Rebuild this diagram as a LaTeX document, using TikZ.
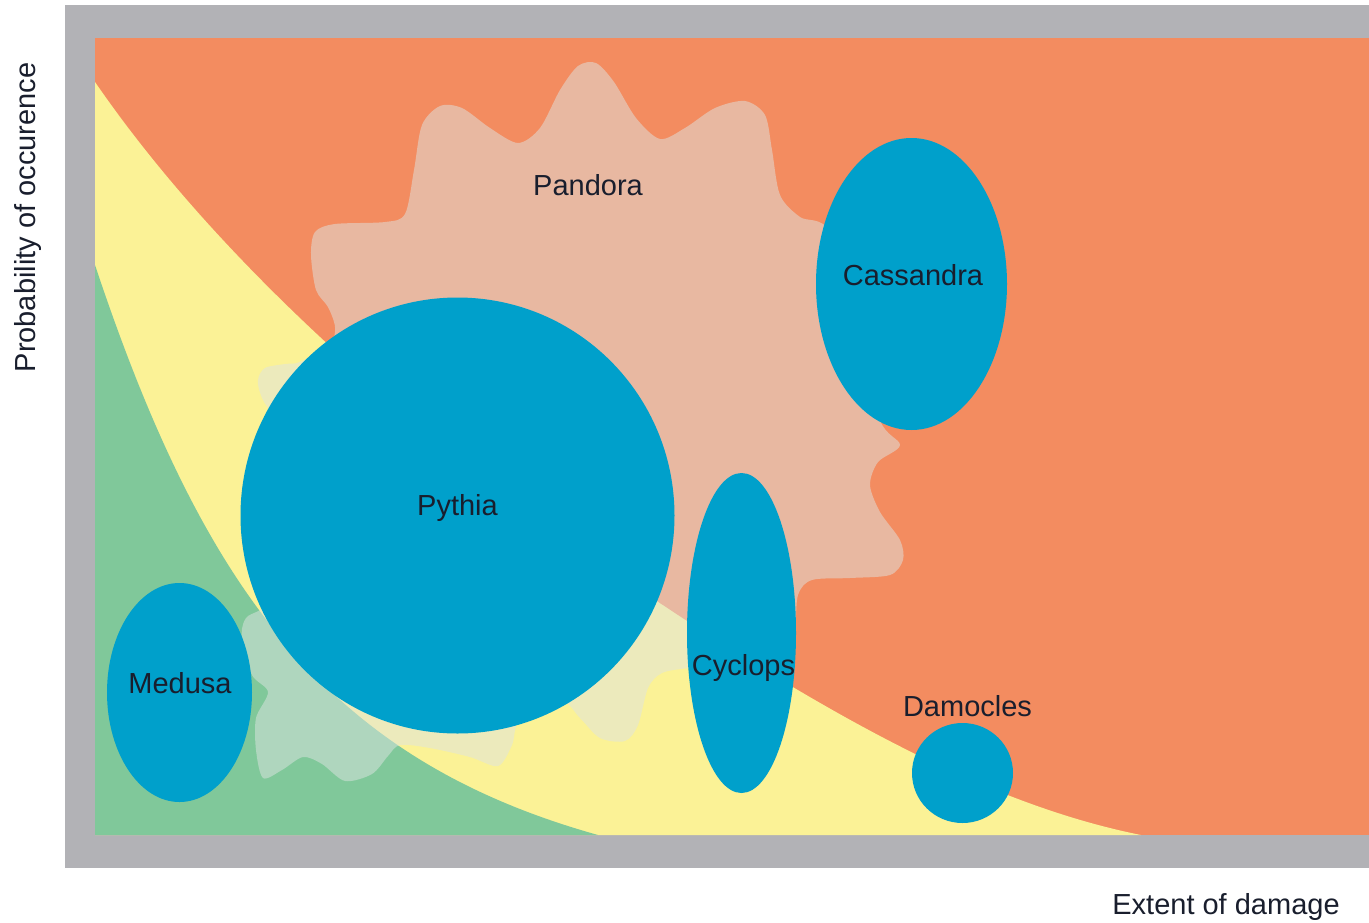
\documentclass[tikz,border=0pt]{standalone}
\usepackage{fontspec}
\setmainfont{Liberation Sans}
\usepackage{tikz}
\usetikzlibrary{shapes.geometric}
\usetikzlibrary{positioning}
\definecolor{framegray}{RGB}{178,178,182}
\definecolor{highrisk}{RGB}{243,140,96}
\definecolor{midrisk}{RGB}{251,242,150}
\definecolor{lowrisk}{RGB}{128,200,154}
\definecolor{riskblue}{RGB}{0,160,203}
\definecolor{veil}{RGB}{222,228,226}
\definecolor{tagtext}{RGB}{25,30,45}
\tikzstyle{risk}=[fill=riskblue,ellipse,inner sep=0pt,draw=none]
\tikzstyle{tag}=[text=tagtext,font=\fontsize{29}{34}\selectfont,inner sep=0pt,anchor=base]

\begin{document}
\begin{tikzpicture}[x=1pt,y=-1pt]
\useasboundingbox (0,0) rectangle (1369,922);
\fill[white] (0,0) rectangle (1369,922);
% frame and the red zone
\fill[framegray] (65,5) rectangle (1369,868);
\fill[highrisk] (95,38) rectangle (1369,835);
% yellow and green zones
\fill[midrisk] (95,82) .. controls (245,300) and (490,493) .. (690,623)
  .. controls (840,720) and (991,805) .. (1141,835) -- (95,835) -- cycle;
\fill[lowrisk] (95,265) .. controls (205,595) and (330,760) .. (598,835)
  -- (95,835) -- cycle;
% Pandora
\fill[veil,opacity=.5] plot[smooth cycle] coordinates {(316,290) (311,255) (315,232) (335,224)
  (385,222) (405,214) (414,170) (422,125) (440,106) (462,108) (490,128) (518,143)
  (540,128) (560,90) (578,66) (596,63) (614,82) (636,118) (660,139) (685,128)
  (715,108) (745,101) (765,115) (772,150) (780,195) (800,217) (830,232) (860,330)
  (880,420) (900,445) (878,462) (870,485) (880,512) (900,540) (903,560) (890,575)
  (850,578) (812,580) (798,595) (790,640) (740,665) (690,668) (662,673) (648,688)
  (638,725) (625,741) (600,738) (580,718) (560,700) (520,720) (512,745) (498,766)
  (470,757) (430,748) (400,745) (388,756) (372,774) (345,781) (322,764) (303,757)
  (282,770) (263,778) (256,750) (256,718) (268,692) (252,675) (242,640) (246,618)
  (275,590) (285,450) (262,398) (258,380) (265,368) (285,364) (300,362) (330,345)
  (335,327) (328,307)};
% blue blobs
\node[risk,minimum width=434pt,minimum height=436pt] (pythia) at (457.5,515.5) {};
\node[risk,minimum width=191pt,minimum height=292pt] (cassandra) at (911.5,284) {};
\node[risk,minimum width=109pt,minimum height=320pt] (cyclops) at (741.5,633) {};
\node[risk,minimum width=145pt,minimum height=219pt] (medusa) at (179.5,692.5) {};
\node[risk,minimum width=101pt,minimum height=100pt] (damocles) at (962.5,773) {};
% labels
\node[tag] (pandoraL) at (588,195) {Pandora};
\node[tag] (pythiaL) at (457.5,515) {Pythia};
\node[tag] (cassandraL) at (913,285) {Cassandra};
\node[tag] (cyclopsL) at (743.5,675) {Cyclops};
\node[tag] (medusaL) at (180,693) {Medusa};
\node[tag,anchor=south,above=6pt of damocles,xshift=5pt] (damoclesL) {Damocles};
\node[tag] (xaxis) at (1226,914) {Extent of damage};
\node[tag,rotate=90] (yaxis) at (35,217.5) {Probability of occurence};
\end{tikzpicture}
\end{document}
